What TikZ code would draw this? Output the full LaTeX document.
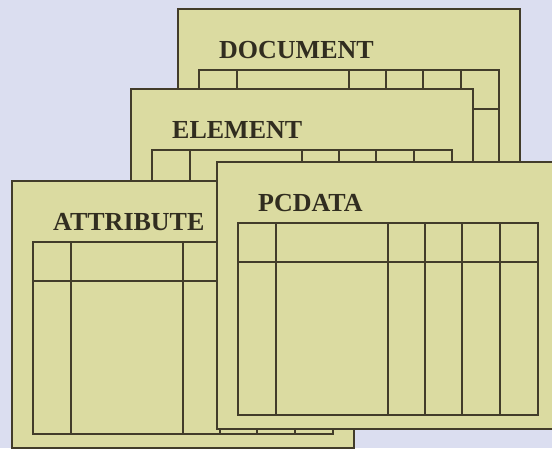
\documentclass[tikz,border=0pt]{standalone}
\usepackage{fontspec}
\setmainfont{Liberation Serif}
\definecolor{bgcol}{RGB}{219,222,240}
\definecolor{pagefill}{RGB}{219,219,161}
\definecolor{ink}{RGB}{66,60,42}
\tikzset{
  pageline/.style={draw=ink, line width=2pt, line join=miter},
  lab/.style={anchor=base west, inner sep=0pt, text=ink!75!black,
    font=\fontsize{26}{30}\selectfont\bfseries}
}
\newcommand\mkpage[4]{%
  \begin{scope}[shift={(#1,#2)}]
    \filldraw[pageline, fill=pagefill] (0,0) rectangle (342,267);
    \draw[pageline] (21,61) rectangle (321,253);
    \draw[pageline] (21,100) -- (321,100);
    \foreach \c in {59,171,208,245,283}
      \draw[pageline] (\c,61) -- (\c,253);
    \node[lab] (#4) at (41,49) {#3};
  \end{scope}}
\begin{document}
\begin{tikzpicture}[x=1pt, y=-1pt]
  \clip (0,0) rectangle (552,448);
  \fill[bgcol] (0,0) rectangle (552,448);
  \mkpage{178}{9}{DOCUMENT}{doc}
  \mkpage{131}{89}{ELEMENT}{elem}
  \mkpage{12}{181}{ATTRIBUTE}{attr}
  \mkpage{217}{162}{PCDATA}{pcdata}
\end{tikzpicture}
\end{document}
